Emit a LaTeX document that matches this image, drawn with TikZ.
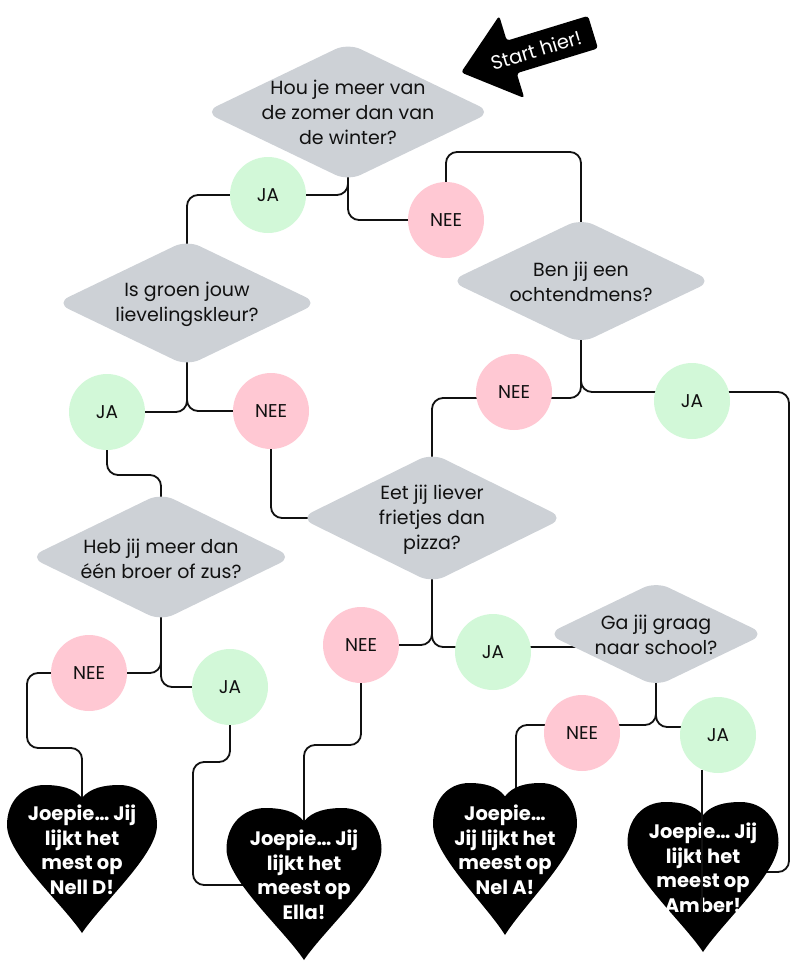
\documentclass[tikz,border=0pt]{standalone}
\usepackage{fontspec}
\setmainfont{Poppins}
\usetikzlibrary{shapes.geometric}
\definecolor{qgray}{RGB}{205,209,214}
\definecolor{yesgreen}{RGB}{210,248,216}
\definecolor{nopink}{RGB}{255,200,211}
\definecolor{ink}{RGB}{17,17,17}
\pgfdeclarelayer{background}
\pgfdeclarelayer{foreground}
\pgfsetlayers{background,main,foreground}
\tikzset{
  qbox/.style={diamond, fill=qgray, draw=none, rounded corners=14pt, inner sep=0pt, text width=0pt},
  qtext/.style={align=center, text=ink, font=\fontsize{19}{25}\selectfont, inner sep=0pt},
  yes/.style={circle, fill=yesgreen, minimum size=76pt, inner sep=0pt, text=ink, font=\fontsize{18.5}{20}\selectfont},
  no/.style={circle, fill=nopink, minimum size=76pt, inner sep=0pt, text=ink, font=\fontsize{18.5}{20}\selectfont},
  conn/.style={draw=ink, line width=1.8pt, rounded corners=11pt},
  htext/.style={align=center, text=white, font=\bfseries\fontsize{19.5}{24.5}\selectfont, inner sep=0pt},
}
\newcommand\heartshape[5]{%
  \begin{scope}[shift={(#1,#2)}, xscale=#3/150, yscale=#4/148]
    \fill[#5] (0,13) .. controls (-8,3) and (-22,0) .. (-37,0)
      .. controls (-60,0) and (-75,17) .. (-75,40)
      .. controls (-75,70) and (-20,118) .. (0,148)
      .. controls (20,118) and (75,70) .. (75,40)
      .. controls (75,17) and (60,0) .. (37,0)
      .. controls (22,0) and (8,3) .. (0,13) -- cycle;
  \end{scope}}
\begin{document}
\begin{tikzpicture}[x=1pt, y=-1pt]
\useasboundingbox (0,0) rectangle (790,961);

% start arrow
\begin{scope}[shift={(528,52)}, rotate=17]
  \fill[black, rounded corners=3pt] (-70,0) -- (-17,-43) -- (-17,-17) -- (68,-17) -- (68,17) -- (-17,17) -- (-17,43) -- cycle;
\end{scope}
\node[text=white, font=\fontsize{19.5}{20}\selectfont, rotate=17, inner sep=0pt] (start) at (536,50) {Start hier!};

% questions
\node[qbox, minimum width=287pt, minimum height=138pt] (d1) at (348,112) {};
\node[qtext] (d1t) at (348,112) {Hou je meer van\\de zomer dan van\\de winter?};
\node[qbox, minimum width=262pt, minimum height=125pt] (d2) at (581,281) {};
\node[qtext] (d2t) at (581,282) {Ben jij een\\ochtendmens?};
\node[qbox, minimum width=262pt, minimum height=126pt] (d3) at (187,303) {};
\node[qtext] (d3t) at (187,304) {Is groen jouw\\lievelingskleur?};
\node[qbox, minimum width=263pt, minimum height=128pt] (d4) at (161,557) {};
\node[qtext] (d4t) at (161,559) {Heb jij meer dan\\één broer of zus?};
\node[qbox, minimum width=264pt, minimum height=130pt] (d5) at (432,518) {};
\node[qtext] (d5t) at (432,520) {Eet jij liever\\frietjes dan\\pizza?};
\node[qbox, minimum width=218pt, minimum height=105pt] (d6) at (656,634) {};
\node[qtext] (d6t) at (656,635) {Ga jij graag\\naar school?};

% answers
\node[yes] (ja1) at (268,195) {JA};
\node[no] (nee1) at (446,220) {NEE};
\node[yes] (ja2) at (107,412) {JA};
\node[no] (nee2) at (271,411) {NEE};
\node[no] (nee3) at (514,392) {NEE};
\node[yes] (ja3) at (692,401) {JA};
\node[no] (nee4) at (89,673) {NEE};
\node[yes] (ja4) at (230,687) {JA};
\node[no] (nee5) at (361,645) {NEE};
\node[yes] (ja5) at (493,652) {JA};
\node[no] (nee6) at (582,733) {NEE};
\node[yes] (ja6) at (718,735) {JA};

% hearts
\heartshape{82}{785}{150}{148}{black}
\heartshape{304}{808}{155}{152}{black}
\heartshape{505}{783}{144}{152}{black}
\heartshape{703}{802}{151}{150}{black}
\node[htext] (h1) at (82,850) {Joepie… Jij\\lijkt het\\mest op\\Nell D!};
\node[htext] (h2) at (304,875) {Joepie… Jij\\lijkt het\\meest op\\Ella!};
\node[htext] (h3) at (505,850) {Joepie…\\Jij lijkt het\\meest op\\Nel A!};
\node[htext] (h4) at (703,868) {Joepie… Jij\\lijkt het\\meest op\\Amber!};

% helper points
\coordinate (c1) at (27,748);
\coordinate (c2) at (193,762);
\coordinate (h2l) at (260,885);
\coordinate (c3) at (304,745);
\coordinate (h3n) at (516,840);
\coordinate (rc) at (789,872);
\coordinate (h4r) at (745,872);
\coordinate (ja6s) at (702,770);
\coordinate (h4s) at (702,912);

\begin{pgfonlayer}{background}
  \draw[conn] (d1.center) |- (ja1.center);
  \draw[conn] (d1.center) |- (nee1.center);
  \draw[conn] (ja1.center) -| (d3.center);
  \draw[conn] (nee1.center) -- ++(0,-68) -| (d2.center);
  \draw[conn] (d2.center) |- ([yshift=-6pt]nee3.center);
  \draw[conn] (d2.center) |- ([yshift=9pt]ja3.center);
  \draw[conn] ([yshift=-6pt]nee3.center) -| (d5.center);
  \draw[conn] ([yshift=9pt]ja3.center) -| (rc) -- (h4r);
  \draw[conn] (d3.center) |- (ja2.center);
  \draw[conn] (d3.center) |- (nee2.center);
  \draw[conn] (ja2.center) -- ++(0,63) -| (d4.center);
  \draw[conn] (nee2.center) |- (d5.center);
  \draw[conn] (d4.center) |- (nee4.center);
  \draw[conn] (d4.center) |- (ja4.center);
  \draw[conn] (nee4.center) -| (c1) -| (h1.center);
  \draw[conn] (ja4.center) |- (c2) |- (h2l);
  \draw[conn] (d5.center) |- (nee5.center);
  \draw[conn] (d5.center) |- ([yshift=5pt]ja5.center);
  \draw[conn] ([yshift=5pt]ja5.center) -- ([yshift=-13pt]d6.center);
  \draw[conn] (nee5.center) |- (c3) -- (h2.center);
  \draw[conn] (d6.center) |- ([yshift=8pt]nee6.center);
  \draw[conn] (d6.center) |- ([yshift=8pt]ja6.center);
  \draw[conn] ([yshift=8pt]nee6.center) -| (h3n);
\end{pgfonlayer}
\begin{pgfonlayer}{foreground}
  \draw[draw=ink, line width=1.5pt] (ja6s) -- (h4s);
\end{pgfonlayer}
\end{tikzpicture}
\end{document}
